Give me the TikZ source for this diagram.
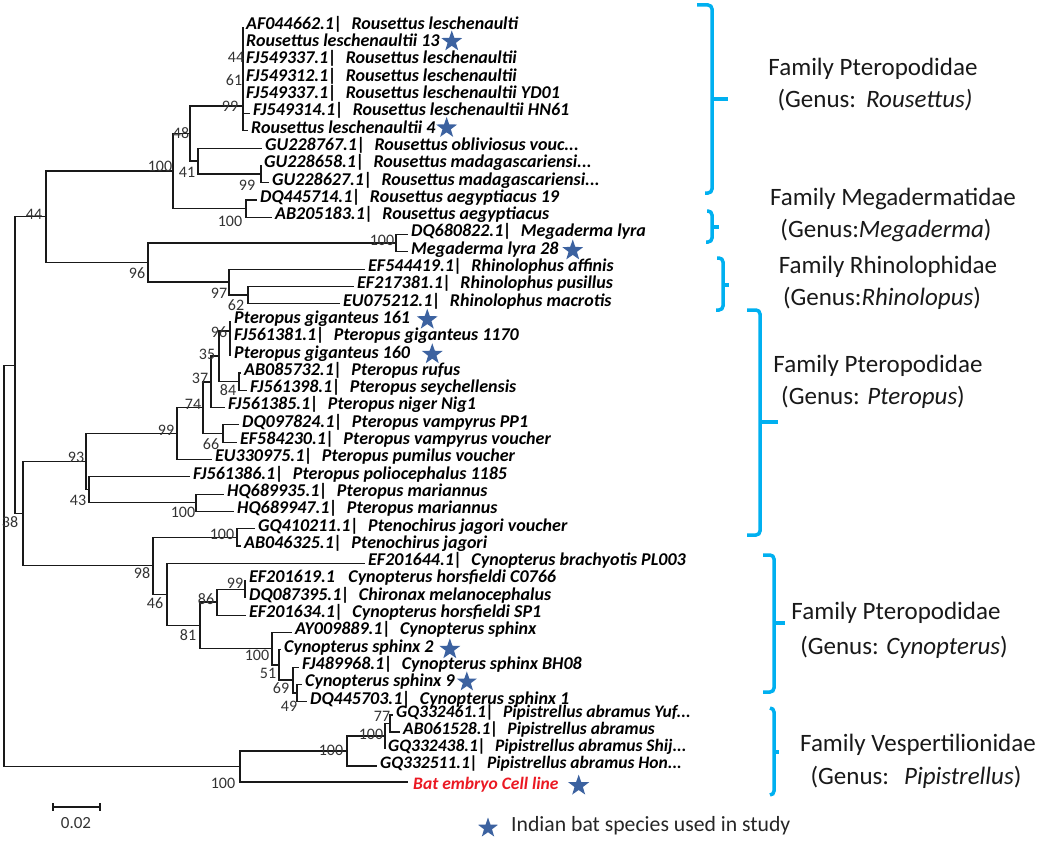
\documentclass[tikz,border=0pt]{standalone}
\usepackage{fontspec}
\setmainfont{Carlito}
\usetikzlibrary{shapes.geometric,calc}
\definecolor{bracecol}{RGB}{0,176,240}
\definecolor{starcol}{RGB}{60,98,160}
\definecolor{redlab}{RGB}{235,25,35}
\newcommand{\sep}{|\hspace{0.5em}}
\newcommand{\lf}[5]{\coordinate (#1) at (#2,#3);\node[leaflab,anchor=mid west] (#1t) at (#2+3,#3) {#4};\draw[br] (#5) |- (#1);}
\newcommand{\lfs}[5]{\coordinate (#1) at (#2,#3);\node[leafsm,anchor=mid west] (#1t) at (#2+3,#3) {#4};\draw[br] (#5) |- (#1);}
\newcommand{\nd}[4]{\coordinate (#1) at (#2,#3);\draw[br] (#4) |- (#1);}
\begin{document}
\begin{tikzpicture}[x=1pt,y=-1pt,
  br/.style={line width=1.1pt,draw=black!90},
  leaflab/.style={font=\fontsize{18}{19}\selectfont\bfseries\itshape,inner sep=0pt},
  leafsm/.style={font=\fontsize{17.5}{19}\selectfont\bfseries\itshape,inner sep=0pt},
  bs/.style={font=\fontsize{16}{17}\selectfont,inner sep=0pt,text=black!80},
  fam/.style={font=\fontsize{25}{28}\selectfont,inner sep=0pt,text=black!90},
  brace/.style={draw=bracecol,line width=3.5pt,rounded corners=4pt},
  bracetip/.style={draw=bracecol,line width=3.5pt},
  sstar/.style={star,star points=5,star point ratio=2.5,fill=starcol,draw=none,minimum size=22pt,inner sep=0pt}]
\useasboundingbox (0,0) rectangle (1041,843);
\fill[white] (0,0) rectangle (1041,843);
% ---------- backbone ----------
\coordinate (root) at (4,566);
\nd{n38}{15}{365.3}{root}
\nd{nPip}{240}{766.5}{root}
\nd{n44top}{46}{216.8}{n38}
\nd{nPt}{23}{513.8}{n38}
% ---------- Rousettus ----------
\nd{n100R}{173}{171}{n44top}
\nd{n96}{148}{262.5}{n44top}
\nd{n48}{190}{133.5}{n100R}
\nd{n100aeg}{246}{208.7}{n100R}
\nd{n99a}{243}{106}{n48}
\nd{n41}{198}{161}{n48}
\nd{n61}{243}{80}{n99a}
\nd{n44a}{243}{57}{n61}
\lf{L1}{243}{27}{AF044662.1\sep Rousettus leschenaulti}{n44a}
\lf{L2}{243}{44.3}{Rousettus leschenaultii 13}{n44a}
\lf{L3}{243}{61.6}{FJ549337.1\sep Rousettus leschenaultii}{n44a}
\lf{L4}{243}{78.9}{FJ549312.1\sep Rousettus leschenaultii}{n61}
\lf{L5}{243}{96.2}{FJ549337.1\sep Rousettus leschenaultii YD01}{n61}
\lf{L6}{250}{113.5}{FJ549314.1\sep Rousettus leschenaultii HN61}{n99a}
\lf{L7}{248}{130.8}{Rousettus leschenaultii 4}{n99a}
\lf{L8}{262}{148.1}{GU228767.1\sep Rousettus obliviosus vouc...}{n41}
\nd{n99b}{261}{174}{n41}
\lf{L9}{261}{165.4}{GU228658.1\sep Rousettus madagascariensi...}{n99b}
\lf{L10}{269}{182.7}{GU228627.1\sep Rousettus madagascariensi...}{n99b}
\lf{L11}{257}{200}{DQ445714.1\sep Rousettus aegyptiacus 19}{n100aeg}
\lf{L12}{272}{217.3}{AB205183.1\sep Rousettus aegyptiacus}{n100aeg}
% ---------- Megaderma / Rhinolophus ----------
\nd{n100Meg}{396}{243}{n96}
\lf{L13}{408}{234.6}{DQ680822.1\sep Megaderma lyra}{n100Meg}
\lf{L14}{408}{251.9}{Megaderma lyra 28}{n100Meg}
\nd{n97}{229}{282}{n96}
\lf{L15}{365}{269.2}{EF544419.1\sep Rhinolophus affinis}{n97}
\nd{n62}{248}{295}{n97}
\lf{L16}{354}{286.5}{EF217381.1\sep Rhinolophus pusillus}{n62}
\lf{L17}{340}{303.8}{EU075212.1\sep Rhinolophus macrotis}{n62}
% ---------- Pteropus ----------
\nd{n93}{86}{461.7}{nPt}
\nd{n98}{153}{565.9}{nPt}
\nd{n99P}{177}{433.6}{n93}
\nd{n43}{89}{489.8}{n93}
\nd{n74}{203}{407.8}{n99P}
\lf{L26}{212}{459.5}{EU330975.1\sep Pteropus pumilus voucher}{n99P}
\nd{n37}{211}{382}{n74}
\nd{n66}{223}{433.5}{n74}
\nd{n35}{219}{356}{n37}
\lf{L23}{225}{407.6}{FJ561385.1\sep Pteropus niger Nig1}{n37}
\nd{n96P}{230}{331}{n35}
\nd{n84}{239}{381.7}{n35}
\lf{L18}{231}{321.1}{Pteropus giganteus 161}{n96P}
\lf{L19}{231}{338.4}{FJ561381.1\sep Pteropus giganteus 1170}{n96P}
\lf{L20}{231}{355.7}{Pteropus giganteus 160}{n96P}
\lf{L21}{241}{373}{AB085732.1\sep Pteropus rufus}{n84}
\lf{L22}{247}{390.3}{FJ561398.1\sep Pteropus seychellensis}{n84}
\lf{L24}{239}{424.9}{DQ097824.1\sep Pteropus vampyrus PP1}{n66}
\lf{L25}{237}{442.2}{EF584230.1\sep Pteropus vampyrus voucher}{n66}
\lf{L27}{190}{476.8}{FJ561386.1\sep Pteropus poliocephalus 1185}{n43}
\nd{n100M}{196}{502.8}{n43}
\lf{L28}{224}{494.1}{HQ689935.1\sep Pteropus mariannus}{n100M}
\lf{L29}{234}{511.4}{HQ689947.1\sep Pteropus mariannus}{n100M}
% ---------- Ptenochirus / Cynopterus ----------
\nd{n100Pt}{237}{537.4}{n98}
\nd{n46}{167}{594.3}{n98}
\lf{L30}{255}{528.7}{GQ410211.1\sep Ptenochirus jagori voucher}{n100Pt}
\lf{L31}{241}{546}{AB046325.1\sep Ptenochirus jagori}{n100Pt}
\lf{L32}{365}{563.3}{EF201644.1\sep Cynopterus brachyotis PL003}{n46}
\nd{n81}{200}{625.4}{n46}
\nd{n86}{217}{602}{n81}
\nd{n100C}{272}{648.7}{n81}
\nd{n99C}{245}{589.3}{n86}
\lf{L33}{246}{580.6}{EF201619.1\hspace{0.75em}Cynopterus horsfieldi C0766}{n99C}
\lf{L34}{246}{597.9}{DQ087395.1\sep Chironax melanocephalus}{n99C}
\lf{L35}{246}{615.2}{EF201634.1\sep Cynopterus horsfieldi SP1}{n86}
\lf{L36}{292}{632.5}{AY009889.1\sep Cynopterus sphinx}{n100C}
\nd{n51}{279}{665}{n100C}
\lf{L37}{281}{649.8}{Cynopterus sphinx 2}{n51}
\nd{n69}{293}{680}{n51}
\lf{L38}{299}{667.1}{FJ489968.1\sep Cynopterus sphinx BH08}{n69}
\nd{n49}{297}{693}{n69}
\lf{L39}{302}{684.4}{Cynopterus sphinx 9}{n49}
\lf{L40}{307}{701.7}{DQ445703.1\sep Cynopterus sphinx 1}{n49}
% ---------- Pipistrellus ----------
\nd{n100b}{347}{751}{nPip}
\nd{n100c}{385}{736}{n100b}
\nd{n77}{390}{723.5}{n100c}
\lfs{L41}{393}{715}{GQ332461.1\sep Pipistrellus abramus Yuf...}{n77}
\lfs{L42}{400}{732}{AB061528.1\sep Pipistrellus abramus}{n77}
\lfs{L43}{385}{749}{GQ332438.1\sep Pipistrellus abramus Shij...}{n100c}
\lfs{L44}{377}{766}{GQ332511.1\sep Pipistrellus abramus Hon...}{n100b}
\coordinate (L45) at (408,782);
\node[leafsm,text=redlab,anchor=mid west] (L45t) at (413,787) {Bat embryo Cell line};
\draw[br] (nPip) |- (L45);
% ---------- stars ----------
\node[sstar] (s2) at ($(L2t.east)+(12,1)$) {};
\node[sstar] (s7) at ($(L7t.east)+(11,1)$) {};
\node[sstar] (s14) at ($(L14t.east)+(14,1)$) {};
\node[sstar] (s18) at ($(L18t.east)+(17,1)$) {};
\node[sstar] (s20) at ($(L20t.east)+(22,1)$) {};
\node[sstar] (s37) at ($(L37t.east)+(16,2)$) {};
\node[sstar,minimum size=21pt] (s39) at ($(L39t.east)+(12,0)$) {};
\node[sstar] (s45) at ($(L45t.east)+(20,1)$) {};
% ---------- bootstrap values ----------
\node[bs] (b1) at (236,57) {44};
\node[bs] (b2) at (234,80) {61};
\node[bs] (b3) at (230,106) {99};
\node[bs] (b4) at (181,133) {48};
\node[bs] (b5) at (187,172) {41};
\node[bs] (b6) at (160,166) {100};
\node[bs] (b7) at (247,185) {99};
\node[bs] (b8) at (230,221) {100};
\node[bs] (b9) at (34,214) {44};
\node[bs] (b10) at (382,240) {100};
\node[bs] (b11) at (137,273) {96};
\node[bs] (b12) at (219,293) {97};
\node[bs] (b13) at (236,305) {62};
\node[bs] (b14) at (219,332) {96};
\node[bs] (b15) at (207,354) {35};
\node[bs] (b16) at (200,378) {37};
\node[bs] (b17) at (228,390) {84};
\node[bs] (b18) at (193,404) {74};
\node[bs] (b19) at (211,444) {66};
\node[bs] (b20) at (166,430) {99};
\node[bs] (b21) at (76,457) {93};
\node[bs] (b22) at (78,500) {43};
\node[bs] (b23) at (183,512) {100};
\node[bs] (b24) at (10,522) {38};
\node[bs] (b25) at (222,534) {100};
\node[bs] (b26) at (142,573) {98};
\node[bs] (b27) at (155,603) {46};
\node[bs] (b28) at (235,583) {99};
\node[bs] (b29) at (206,599) {86};
\node[bs] (b30) at (188,635) {81};
\node[bs] (b31) at (257,655) {100};
\node[bs] (b32) at (268,673) {51};
\node[bs] (b33) at (281,688) {69};
\node[bs] (b34) at (289,706) {49};
\node[bs] (b35) at (382,716) {77};
\node[bs] (b36) at (371,734) {100};
\node[bs] (b37) at (331,750) {100};
\node[bs] (b38) at (223,783) {100};
% ---------- scale bar ----------
\coordinate (sbL) at (53,807);
\coordinate (sbR) at (100,807);
\draw[br] (sbL) -- (sbR);
\draw[br] ($(sbL)+(0,-4)$) -- ($(sbL)+(0,4)$);
\draw[br] ($(sbR)+(0,-4)$) -- ($(sbR)+(0,4)$);
\node[bs,font=\fontsize{17}{18}\selectfont] (sbt) at (76,823) {0.02};
% ---------- legend ----------
\node[sstar,minimum size=21pt] (lgs) at (488,828) {};
\node[font=\fontsize{21.7}{24}\selectfont,anchor=mid west,inner sep=0pt,text=black!85] (lgt) at (511,829) {Indian bat species used in study};
% ---------- braces ----------
\draw[brace] (697,5) -- (712,5) -- (712,193) -- (705,193);
\draw[bracetip] (712,99) -- (728,99);
\draw[brace] (707,211) -- (712,211) -- (712,242) -- (706,242);
\draw[bracetip] (712,227) -- (719,227);
\draw[brace] (717,258) -- (723,258) -- (723,310) -- (716,310);
\draw[bracetip] (723,285) -- (729,285);
\draw[brace] (747,310) -- (760,310) -- (760,535) -- (747,535);
\draw[bracetip] (760,422) -- (778,422);
\draw[brace] (763,555) -- (774,555) -- (774,692) -- (763,692);
\draw[bracetip] (774,623) -- (785,623);
\draw[brace] (770,708) -- (774,708) -- (774,795) -- (770,795);
\draw[bracetip] (774,752) -- (779,752);
% ---------- family labels ----------
\node[fam] (f1a) at (873,69) {Family Pteropodidae};
\node[fam] (f1b) at (875,100) {(Genus:\hspace{0.4em}\textit{Rousettus)}};
\node[fam] (f2a) at (893,199) {Family Megadermatidae};
\node[fam] (f2b) at (886,230) {(Genus:\textit{Megaderma})};
\node[fam] (f3a) at (888,267) {Family Rhinolophidae};
\node[fam] (f3b) at (882,298) {(Genus:\textit{Rhinolopus})};
\node[fam] (f4a) at (878,366) {Family Pteropodidae};
\node[fam] (f4b) at (873,397) {(Genus: \textit{Pteropus})};
\node[fam] (f5a) at (896,613) {Family Pteropodidae};
\node[fam] (f5b) at (904,647) {(Genus: \textit{Cynopterus})};
\node[fam] (f6a) at (918,745) {Family Vespertilionidae};
\node[fam] (f6b) at (916,777) {(Genus:\hspace{0.6em}\textit{Pipistrellus})};
\end{tikzpicture}
\end{document}
